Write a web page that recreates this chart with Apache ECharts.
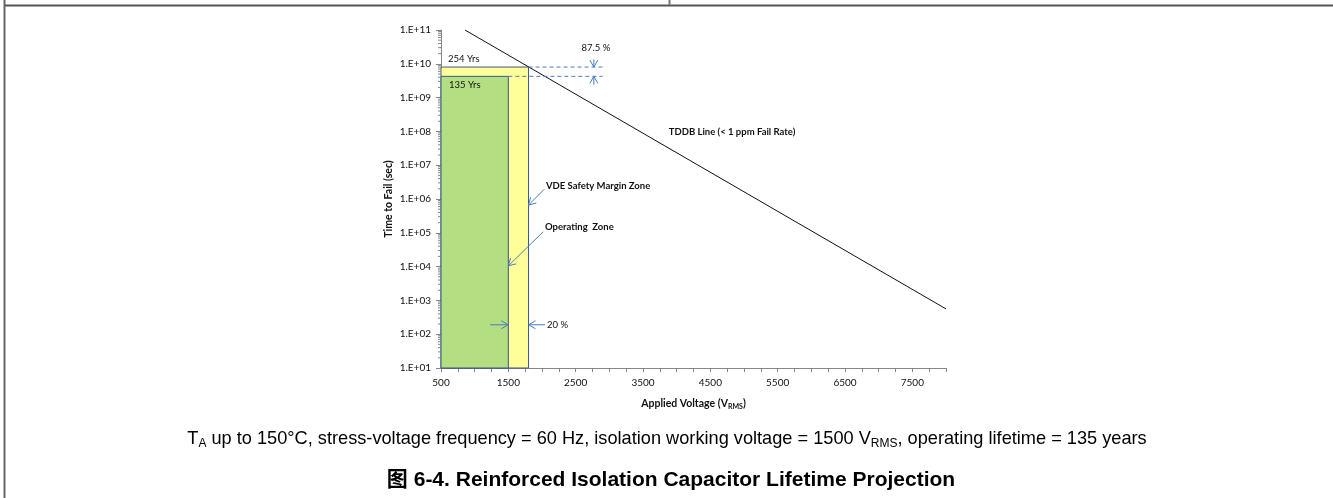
<!DOCTYPE html>
<html><head><meta charset="utf-8">
<script src="https://cdn.jsdelivr.net/npm/echarts@6/dist/echarts.min.js"></script>
<style>html,body{margin:0;padding:0;background:#fff}#c{width:1333px;height:498px}</style>
</head><body><div id="c"></div>
<script>
// ---------- data ----------
const SEC_PER_YEAR = 3.1536e7;
const xTickLabels = ['500', '1500', '2500', '3500', '4500', '5500', '6500', '7500'];
const yTickLabels = ['1.E+01', '1.E+02', '1.E+03', '1.E+04', '1.E+05', '1.E+06', '1.E+07', '1.E+08', '1.E+09', '1.E+10', '1.E+11'];
const tddbVoltage = [856, 8000];
const tddbTime = [1.0e11, 5.6e2];
const zoneNames = ['VDE Safety Margin Zone', 'Operating  Zone'];
const zoneStartV = [500, 500];
const zoneEndV = [1800, 1500];
const zoneLifeYears = [254, 135];
const lifeLabels = ['254 Yrs', '135 Yrs'];
const marginLabels = ['87.5 %', '20 %'];
const tddbLabel = 'TDDB Line (< 1 ppm Fail Rate)';

// ---------- derived ----------
const zoneTop = zoneLifeYears.map(y => y * SEC_PER_YEAR);
const Y_MIN = 10, Y_MAX = 1e11, X_MIN = 500, X_MAX = 8000;
const FONT = 'Lato, "Noto Sans", sans-serif';
const BLUE = '#4a7ebb';
const INK = '#111';

// annotation layout (data units)
const arrows = [
  [2770, 1.35e10, 2770, zoneTop[0]],
  [2770, 2.4e9, 2770, zoneTop[1]],
  [1230, 1.9e2, zoneEndV[1], 1.9e2],
  [2045, 1.9e2, zoneEndV[0], 1.9e2],
  [2033, 1.94e6, zoneEndV[0], 6.6e5],
  [2018, 1.07e5, zoneEndV[1], 1.05e4]
];
const dashes = [
  [zoneEndV[0], 2900, zoneTop[0]],
  [zoneEndV[1], 2900, zoneTop[1]]
];
const texts = [
  [2800, 2.9e10, marginLabels[0], 'center', 'normal'],
  [604, 1.4e10, lifeLabels[0], 'left', 'normal'],
  [618, 2.3e9, lifeLabels[1], 'left', 'normal'],
  [2075, 1.9e2, marginLabels[1], 'left', 'normal'],
  [2058, 2.4e6, zoneNames[0], 'left', 'bold'],
  [2043, 1.5e5, zoneNames[1], 'left', 'bold'],
  [3883, 9.6e7, tddbLabel, 'left', 'bold']
];
const minorTicks = [];
for (let k = 1; k < 11; k++) for (let m = 2; m <= 9; m++) minorTicks.push([X_MIN, m * Math.pow(10, k)]);

const chart = echarts.init(document.getElementById('c'), null, {renderer: 'canvas'});
const zoneFill = ['#ffff99', '#b3de81'];

const option = {
  animation: false,
  backgroundColor: '#fff',
  grid: {left: 441, top: 30, width: 505, height: 338, containLabel: false},
  xAxis: {
    type: 'value', min: X_MIN, max: X_MAX, interval: 250,
    axisLine: {show: true, lineStyle: {color: '#868686', width: 1}},
    axisTick: {show: true, length: 4, lineStyle: {color: '#868686'}},
    splitLine: {show: false},
    axisLabel: {
      margin: 10, fontFamily: FONT, fontSize: 10, color: INK,
      formatter: v => ((v - X_MIN) % 1000 === 0 ? xTickLabels[(v - X_MIN) / 1000] || '' : '')
    },
    name: '{b|Applied Voltage (V}{s|RMS}{b|)}',
    nameLocation: 'middle', nameGap: 29,
    nameTextStyle: {
      rich: {
        b: {fontFamily: FONT, fontSize: 10.5, fontWeight: 'bold', color: INK, lineHeight: 13},
        s: {fontFamily: FONT, fontSize: 7, fontWeight: 'bold', color: INK, lineHeight: 7, verticalAlign: 'bottom'}
      }
    }
  },
  yAxis: {
    type: 'log', logBase: 10, min: Y_MIN, max: Y_MAX, interval: 1,
    axisLine: {show: true, lineStyle: {color: '#868686', width: 1}},
    axisTick: {show: true, length: 5, lineStyle: {color: '#868686'}},
    minorTick: {show: false},
    splitLine: {show: false},
    axisLabel: {
      margin: 10, fontFamily: FONT, fontSize: 10, color: INK,
      formatter: v => yTickLabels[Math.round(Math.log10(v)) - 1] || ''
    },
    name: 'Time to Fail (sec)', nameLocation: 'middle', nameGap: 47,
    nameTextStyle: {fontFamily: FONT, fontSize: 10.5, fontWeight: 'bold', color: INK}
  },
  series: [
    {
      type: 'custom', name: 'zones', z: 1,
      data: zoneStartV.map((s, i) => [s, zoneEndV[i], zoneTop[i]]),
      encode: {x: [0, 1], y: 2},
      renderItem: (params, api) => {
        const p0 = api.coord([api.value(0), api.value(2)]);
        const p1 = api.coord([api.value(1), Y_MIN]);
        return {type: 'rect', shape: {x: p0[0], y: p0[1], width: p1[0] - p0[0], height: p1[1] - p0[1]},
          style: {fill: zoneFill[params.dataIndex], stroke: '#3d5688', lineWidth: 1}};
      }
    },
    {
      type: 'custom', name: 'minorTicks', z: 3, silent: true,
      data: minorTicks,
      renderItem: (params, api) => {
        const p = api.coord([api.value(0), api.value(1)]);
        return {type: 'line', shape: {x1: p[0] - 3, y1: p[1], x2: p[0], y2: p[1]}, style: {stroke: '#868686', lineWidth: 1}};
      }
    },
    {
      type: 'line', name: 'TDDB', z: 4,
      data: tddbVoltage.map((v, i) => [v, tddbTime[i]]),
      showSymbol: false, symbol: 'none',
      lineStyle: {color: '#111', width: 1}
    },
    {
      type: 'custom', name: 'dashes', z: 5,
      data: dashes,
      renderItem: (params, api) => {
        const a = api.coord([api.value(0), api.value(2)]);
        const b = api.coord([api.value(1), api.value(2)]);
        return {type: 'line', shape: {x1: a[0], y1: a[1], x2: b[0], y2: b[1]},
          style: {stroke: BLUE, lineWidth: 1, lineDash: [4, 3]}};
      }
    },
    {
      type: 'custom', name: 'arrows', z: 6,
      data: arrows,
      renderItem: (params, api) => {
        const a = api.coord([api.value(0), api.value(1)]);
        const b = api.coord([api.value(2), api.value(3)]);
        const dx = b[0] - a[0], dy = b[1] - a[1], L = Math.hypot(dx, dy) || 1;
        const ux = dx / L, uy = dy / L, nx = -uy, ny = ux;
        const hl = 7, hw = 4;
        return {type: 'group', children: [
          {type: 'line', shape: {x1: a[0], y1: a[1], x2: b[0], y2: b[1]}, style: {stroke: BLUE, lineWidth: 1}},
          {type: 'polyline', shape: {points: [
            [b[0] - hl * ux + hw * nx, b[1] - hl * uy + hw * ny], b,
            [b[0] - hl * ux - hw * nx, b[1] - hl * uy - hw * ny]]},
            style: {stroke: BLUE, lineWidth: 1, fill: null}}
        ]};
      }
    },
    {
      type: 'custom', name: 'texts', z: 7,
      data: texts.map(t => [t[0], t[1], t[2], t[3], t[4]]),
      renderItem: (params, api) => {
        const t = texts[params.dataIndex];
        const p = api.coord([t[0], t[1]]);
        return {type: 'text', x: p[0], y: p[1], style: {text: t[2], fill: INK, align: t[3],
          verticalAlign: 'middle', font: t[4] + ' 9.5px ' + FONT}};
      }
    }
  ],
  graphic: [
    {type: 'line', shape: {x1: 4, y1: 5.5, x2: 1333, y2: 5.5}, style: {stroke: '#555', lineWidth: 2}, silent: true},
    {type: 'line', shape: {x1: 4.5, y1: 0, x2: 4.5, y2: 498}, style: {stroke: '#666', lineWidth: 2}, silent: true},
    {type: 'line', shape: {x1: 669.5, y1: 0, x2: 669.5, y2: 5}, style: {stroke: '#777', lineWidth: 2}, silent: true},
    {
      type: 'text', x: 667, y: 439, silent: true,
      style: {
        text: 'T{s|A} up to 150°C, stress-voltage frequency = 60 Hz, isolation working voltage = 1500 V{s|RMS}, operating lifetime = 135 years',
        align: 'center', verticalAlign: 'middle', fill: '#000',
        font: '18.2px "Liberation Sans", Arial, sans-serif', lineHeight: 22,
        rich: {s: {font: '12px "Liberation Sans", Arial, sans-serif', lineHeight: 12, verticalAlign: 'bottom', fill: '#000'}}
      }
    },
    {
      type: 'text', x: 671, y: 480, silent: true,
      style: {text: '图 6-4. Reinforced Isolation Capacitor Lifetime Projection', align: 'center', verticalAlign: 'middle',
        fill: '#000', font: 'bold 21px "Liberation Sans", "Noto Sans CJK SC", Arial, sans-serif'}
    }
  ]
};
chart.setOption(option);
</script></body></html>
